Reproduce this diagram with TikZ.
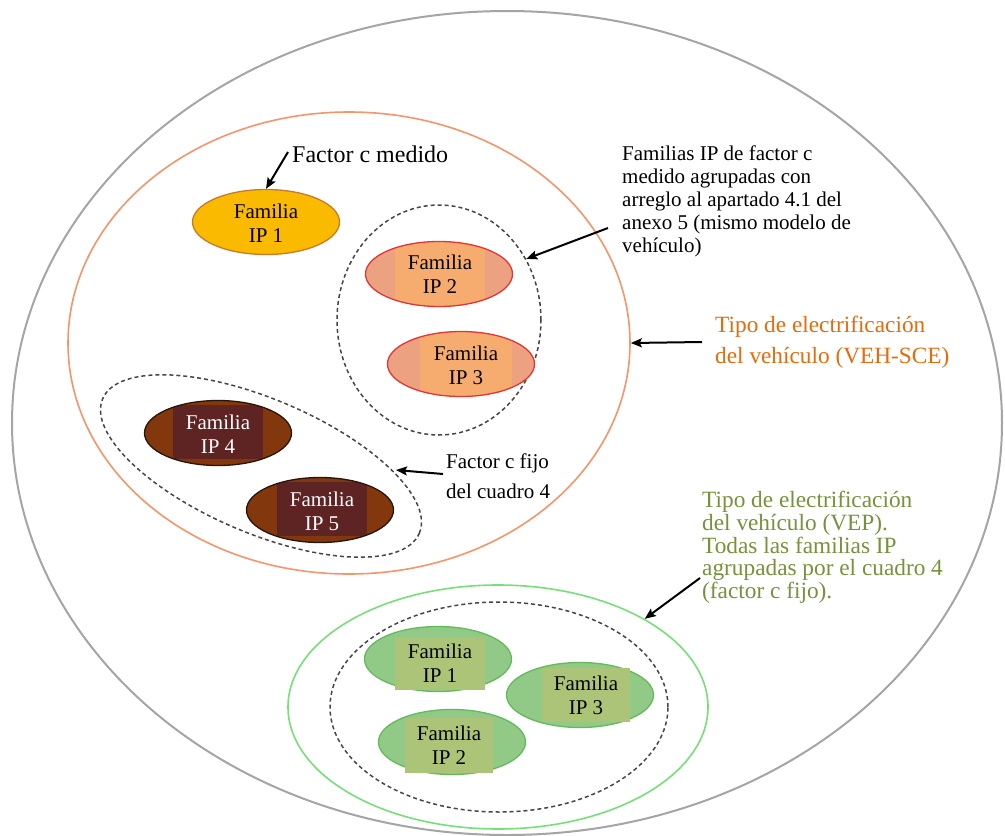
\documentclass[tikz,border=0pt]{standalone}
\usepackage{fontspec}
\setmainfont{Liberation Serif}
\usetikzlibrary{shapes.geometric,arrows.meta}

\definecolor{outergray}{RGB}{165,165,165}
\definecolor{scering}{RGB}{244,150,108}
\definecolor{scetext}{RGB}{228,108,10}
\definecolor{vepring}{RGB}{120,222,120}
\definecolor{veptext}{RGB}{118,146,60}
\definecolor{dashgray}{RGB}{70,70,70}
\definecolor{goldfill}{RGB}{250,186,0}
\definecolor{goldline}{RGB}{200,122,40}
\definecolor{salmonfill}{RGB}{236,162,128}
\definecolor{salmonrect}{RGB}{245,172,110}
\definecolor{salmonline}{RGB}{228,52,52}
\definecolor{brownfill}{RGB}{130,55,12}
\definecolor{brownrect}{RGB}{94,35,35}
\definecolor{brownline}{RGB}{40,20,10}
\definecolor{greenfill}{RGB}{145,202,135}
\definecolor{greenrect}{RGB}{172,196,120}
\definecolor{greenline}{RGB}{100,185,90}

\tikzset{
  ring/.style={ellipse, inner sep=0pt, line width=1.6pt},
  dashring/.style={ellipse, inner sep=0pt, draw=dashgray, line width=1.5pt, dash pattern=on 4pt off 3pt},
  fam/.style={ellipse, inner sep=0pt, line width=1.3pt, minimum width=147pt, minimum height=65pt},
  famtext/.style={align=center, inner sep=0pt, font=\fontsize{21}{24}\selectfont},
  note/.style={align=left, inner sep=0pt, anchor=north west},
  pointer/.style={draw=black, line width=2pt, -{Stealth[length=11pt,width=9pt,inset=2pt]}},
}

\begin{document}
\begin{tikzpicture}[x=1pt,y=-1pt]
\useasboundingbox[fill=white] (0,0) rectangle (1005,836);

% enclosing outline and the two electrification types
\node[ring, draw=outergray, line width=2pt, minimum width=990pt, minimum height=824pt] (outer) at (507,423) {};
\node[ring, draw=scering, minimum width=562pt, minimum height=462pt] (sce) at (349,343) {};
\node[ring, draw=vepring, minimum width=420pt, minimum height=244pt] (vep) at (498,707) {};

% dashed groupings
\node[dashring, minimum width=204pt, minimum height=230pt] (grpA) at (439,320) {};
\node[dashring, minimum width=344pt, minimum height=134pt, rotate=-23] (grpB) at (261,466) {};
\node[dashring, minimum width=338pt, minimum height=210pt] (grpC) at (499,707) {};

% family IP 1 (measured factor)
\node[fam, fill=goldfill, draw=goldline] (f1) at (266,222) {};
\node[famtext] (f1t) at (266,223) {Familia\\IP 1};

% families IP 2 and IP 3
\node[fam, fill=salmonfill] (f2) at (439,274) {};
\begin{scope}
  \clip (439,274) ellipse [x radius=73.5, y radius=32.5];
  \fill[salmonrect] (395,230) rectangle (485,320);
\end{scope}
\draw[salmonline, line width=1.3pt] (439,274) ellipse [x radius=73.5, y radius=32.5];
\node[famtext] (f2t) at (440,274) {Familia\\IP 2};

\node[fam, fill=salmonfill] (f3) at (461,364) {};
\begin{scope}
  \clip (461,364) ellipse [x radius=73.5, y radius=32.5];
  \fill[salmonrect] (420,320) rectangle (512,410);
\end{scope}
\draw[salmonline, line width=1.3pt] (461,364) ellipse [x radius=73.5, y radius=32.5];
\node[famtext] (f3t) at (466,365) {Familia\\IP 3};

% families IP 4 and IP 5 (fixed factor)
\node[fam, fill=brownfill] (f4) at (218,433) {};
\begin{scope}
  \clip (218,433) ellipse [x radius=73.5, y radius=32.5];
  \fill[brownrect] (173,405) rectangle (263,459);
\end{scope}
\draw[brownline, line width=1.3pt] (218,433) ellipse [x radius=73.5, y radius=32.5];
\node[famtext, text=white] (f4t) at (218,434) {Familia\\IP 4};

\node[fam, fill=brownfill] (f5) at (320,510) {};
\begin{scope}
  \clip (320,510) ellipse [x radius=73.5, y radius=32.5];
  \fill[brownrect] (277,482) rectangle (367,536);
\end{scope}
\draw[brownline, line width=1.3pt] (320,510) ellipse [x radius=73.5, y radius=32.5];
\node[famtext, text=white] (f5t) at (322,511) {Familia\\IP 5};

% VEP families
\node[fam, fill=greenfill, draw=greenline] (g1) at (438,659) {};
\fill[greenrect] (395,637) rectangle (485,690);
\node[famtext] (g1t) at (440,663) {Familia\\IP 1};

\node[fam, fill=greenfill, draw=greenline] (g3) at (580,695) {};
\fill[greenrect] (542,668) rectangle (630,722);
\node[famtext] (g3t) at (586,695) {Familia\\IP 3};

\node[fam, fill=greenfill, draw=greenline] (g2) at (452,742) {};
\fill[greenrect] (405,718) rectangle (493,773);
\node[famtext] (g2t) at (449,745) {Familia\\IP 2};

% annotations
\node[inner sep=0pt, anchor=base west, font=\fontsize{24}{28}\selectfont] (medido) at (292,162) {Factor c medido};

\node[note, font=\fontsize{21}{23}\selectfont] (grpAtext) at (622,146)
  {Familias IP de factor c\\medido agrupadas con\\arreglo al apartado 4.1 del\\anexo 5 (mismo modelo de\\vehículo)};

\node[note, text=scetext, font=\fontsize{23.3}{31}\selectfont] (scetext) at (715,316)
  {Tipo de electrificación\\del vehículo (VEH-SCE)};

\node[note, font=\fontsize{21}{30}\selectfont] (fijotext) at (446,454)
  {Factor c fijo\\del cuadro 4};

\node[note, text=veptext, font=\fontsize{23.3}{22.7}\selectfont] (veptext) at (702,491)
  {Tipo de electrificación\\del vehículo (VEP).\\Todas las familias IP\\agrupadas por el cuadro 4\\(factor c fijo).};

% arrows
\coordinate (medidoTail) at (288,152);
\coordinate (grpATail) at (608,228);
\coordinate (sceTail) at (702,342);
\coordinate (fijoTail) at (443,474);
\coordinate (fijoTip) at (396,470);
\coordinate (vepTail) at (700,578);

\draw[pointer] (medidoTail) -- (f1.north);
\draw[pointer] (grpATail) -- (grpA.35);
\draw[pointer] (sceTail) -- (sce.east);
\draw[pointer] (fijoTail) -- (fijoTip);
\draw[pointer] (vepTail) -- (vep.31);
\end{tikzpicture}
\end{document}
